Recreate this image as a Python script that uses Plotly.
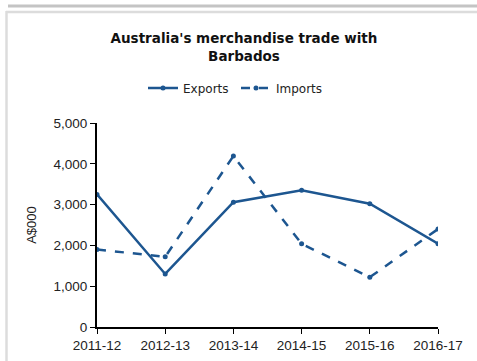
import plotly.graph_objects as go

# Financial years and trade values (A$000)
years = ["2011-12", "2012-13", "2013-14", "2014-15", "2015-16", "2016-17"]
exports = [3250, 1300, 3060, 3350, 3020, 2040]
imports = [1900, 1720, 4190, 2040, 1220, 2400]
y_ticks = [0, 1000, 2000, 3000, 4000, 5000]
y_tick_labels = ["0", "1,000", "2,000", "3,000", "4,000", "5,000"]

W, H = 477, 361
L, R, T, B = 97, 39, 123, 34
pw, ph = W - L - R, H - T - B

def px_x(p):
    return (p - L) / pw

def px_y(p):
    return (H - B - p) / ph

blue = "#1d5690"

fig = go.Figure()
fig.add_trace(go.Scatter(
    x=years, y=exports, name="Exports", mode="lines+markers",
    line=dict(color=blue, width=2.5),
    marker=dict(size=5, color=blue),
))
fig.add_trace(go.Scatter(
    x=years, y=imports, name="Imports", mode="lines+markers",
    line=dict(color=blue, width=2.5, dash="dash"),
    marker=dict(size=5, color=blue),
))

# panel frame lines
shapes = [
    dict(type="line", xref="paper", yref="paper",
         x0=px_x(8), x1=px_x(477), y0=px_y(6), y1=px_y(6),
         line=dict(color="#c4c4c4", width=3)),
    dict(type="line", xref="paper", yref="paper",
         x0=px_x(6), x1=px_x(477), y0=px_y(12), y1=px_y(12),
         line=dict(color="#dcdcdc", width=2.5)),
    dict(type="line", xref="paper", yref="paper",
         x0=px_x(6.5), x1=px_x(6.5), y0=px_y(11), y1=px_y(361),
         line=dict(color="#dcdcdc", width=2.5)),
]

fig.update_layout(
    width=W, height=H,
    margin=dict(l=L, r=R, t=T, b=B, autoexpand=False),
    paper_bgcolor="white", plot_bgcolor="white",
    shapes=shapes,
    title=dict(
        text="<b>Australia's merchandise trade with<br>Barbados</b>",
        x=244 / W, xref="container", xanchor="center",
        y=1 - 43 / H, yref="container", yanchor="middle",
        font=dict(family="DejaVu Sans", size=13.5, color="#111111"),
    ),
    legend=dict(
        orientation="h", x=px_x(143), xref="paper", xanchor="left",
        y=px_y(88), yanchor="middle",
        font=dict(family="DejaVu Sans", size=12, color="#222222"),
        entrywidth=48, entrywidthmode="pixels", tracegroupgap=0,
    ),
    showlegend=True,
    xaxis=dict(
        type="category", range=[0, len(years) - 1],
        showline=True, linecolor="black", linewidth=2,
        ticks="outside", ticklen=5, tickcolor="black", tickwidth=1,
        tickangle=0,
        showgrid=False, zeroline=False,
        tickfont=dict(family="Liberation Sans", size=13.5, color="#222222"),
    ),
    yaxis=dict(
        range=[0, 5000], tickvals=y_ticks, ticktext=y_tick_labels,
        showline=True, linecolor="black", linewidth=2,
        ticks="outside", ticklen=5, tickcolor="black", tickwidth=1,
        showgrid=False, zeroline=False,
        tickfont=dict(family="Liberation Sans", size=13.5, color="#222222"),
        title=dict(text="A$000", standoff=14,
                   font=dict(family="Liberation Sans", size=13, color="#222222")),
    ),
)

fig.write_html("out.html")
